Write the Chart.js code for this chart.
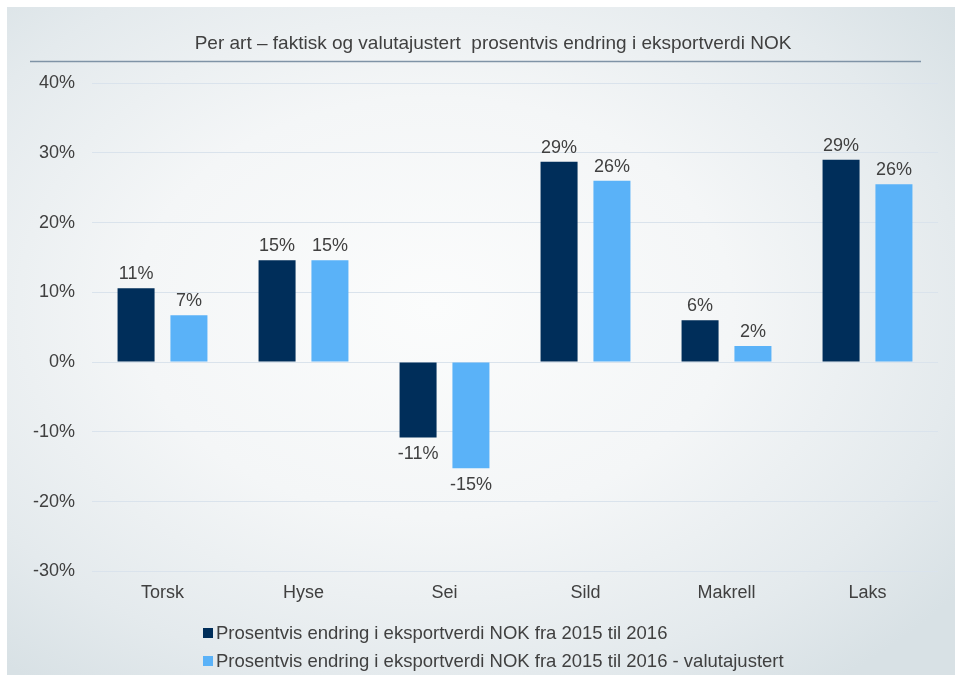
<!DOCTYPE html>
<html>
<head>
<meta charset="utf-8">
<script src="https://cdn.jsdelivr.net/npm/chart.js@4.4.1/dist/chart.umd.min.js"></script>
<style>
  html, body { margin: 0; padding: 0; background: #fff; }
  body { width: 955px; height: 677px; position: relative; overflow: hidden; font-family: 'Liberation Sans', Arial, sans-serif; }
  #panel {
    position: absolute; left: 7px; top: 7px; width: 948px; height: 668px;
    background: radial-gradient(ellipse 70% 70% at 45% 45%, #fbfcfc 0%, #f4f6f7 45%, #e4eaed 80%, #d8e1e5 100%);
  }
  #wrap { position: absolute; left: 0; top: 0; width: 955px; height: 677px; }
  #legend { position: absolute; left: 203px; top: 619px; color: #404040; font-size: 18.5px; }
  #legend div { height: 28px; line-height: 28px; display: flex; align-items: center; }
  #legend span.box { display: inline-block; width: 10px; height: 10px; margin-right: 3px; }
</style>
</head>
<body>
<div id="panel"></div>
<div id="wrap"><canvas id="myChart" width="955" height="677"></canvas></div>
<div id="legend"></div>
<script>
const categories = ['Torsk', 'Hyse', 'Sei', 'Sild', 'Makrell', 'Laks'];
const actualChange = [10.6, 14.6, -10.8, 28.7, 6.0, 29.0];
const adjustedChange = [6.7, 14.6, -15.2, 26.0, 2.3, 25.5];
const seriesNames = [
  'Prosentvis endring i eksportverdi NOK fra 2015 til 2016',
  'Prosentvis endring i eksportverdi NOK fra 2015 til 2016 - valutajustert'
];
const titleText = 'Per art \u2013 faktisk og valutajustert  prosentvis endring i eksportverdi NOK';

const textColor = '#404040';
const font = "'Liberation Sans', Arial, sans-serif";

// title + rule under it
const titlePlugin = {
  id: 'titleRule',
  afterDraw(chart) {
    const ctx = chart.ctx;
    ctx.save();
    ctx.fillStyle = textColor;
    ctx.font = '19px ' + font;
    ctx.textAlign = 'center';
    ctx.textBaseline = 'middle';
    ctx.fillText(titleText, 493, 44);
    ctx.strokeStyle = '#7f93a6';
    ctx.lineWidth = 1.5;
    ctx.beginPath();
    ctx.moveTo(30, 61.5);
    ctx.lineTo(921, 61.5);
    ctx.stroke();
    ctx.restore();
  }
};

// value labels over / under the bars
const valueLabels = {
  id: 'valueLabels',
  afterDatasetsDraw(chart) {
    const ctx = chart.ctx;
    ctx.save();
    ctx.fillStyle = textColor;
    ctx.font = '18px ' + font;
    ctx.textAlign = 'center';
    chart.data.datasets.forEach((ds, i) => {
      chart.getDatasetMeta(i).data.forEach((bar, j) => {
        const v = ds.data[j];
        const txt = Math.round(v) + '%';
        if (v >= 0) {
          ctx.textBaseline = 'bottom';
          ctx.fillText(txt, bar.x, bar.y - 5);
        } else {
          ctx.textBaseline = 'top';
          ctx.fillText(txt, bar.x, bar.y + 8);
        }
      });
    });
    ctx.restore();
  }
};

const chart = new Chart(document.getElementById('myChart'), {
  type: 'bar',
  data: {
    labels: categories,
    datasets: [
      { label: seriesNames[0], data: actualChange, backgroundColor: '#002e5a' },
      { label: seriesNames[1], data: adjustedChange, backgroundColor: '#5ab2f8' }
    ]
  },
  options: {
    responsive: false,
    animation: false,
    categoryPercentage: 0.75,
    barPercentage: 0.7,
    layout: { padding: { top: 83, right: 17, bottom: 62, left: 0 } },
    plugins: {
      legend: { display: false },
      tooltip: { enabled: false }
    },
    scales: {
      x: {
        grid: { display: false, drawTicks: false },
        border: { display: false },
        ticks: { color: textColor, font: { family: font, size: 18 }, padding: 11 }
      },
      y: {
        min: -30,
        max: 40,
        afterFit(scale) { scale.width = 92; },
        grid: { color: '#dae3ec', drawTicks: false },
        border: { display: false },
        ticks: {
          stepSize: 10,
          color: textColor,
          font: { family: font, size: 18 },
          padding: 17,
          callback: v => v + '%'
        }
      }
    }
  },
  plugins: [titlePlugin, valueLabels]
});

// html legend, rows left-aligned
const legend = document.getElementById('legend');
chart.data.datasets.forEach(ds => {
  const row = document.createElement('div');
  const box = document.createElement('span');
  box.className = 'box';
  box.style.background = ds.backgroundColor;
  row.appendChild(box);
  row.appendChild(document.createTextNode(ds.label));
  legend.appendChild(row);
});
</script>
</body>
</html>
